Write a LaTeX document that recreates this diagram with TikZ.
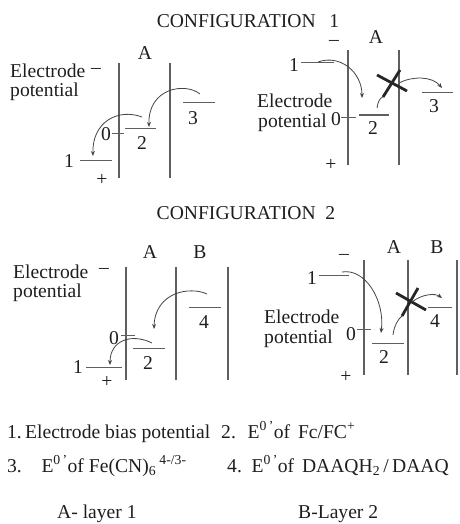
\documentclass[tikz,border=0pt]{standalone}
\usepackage{fontspec}
\setmainfont{Liberation Serif}
\usetikzlibrary{arrows.meta}
\definecolor{linegray}{RGB}{95,95,95}
\definecolor{inkgray}{RGB}{30,30,30}

\begin{document}
\begin{tikzpicture}[x=1pt, y=-1pt,
    font=\fontsize{19.6}{23}\selectfont, text=inkgray,
    lbl/.style={inner sep=0pt},
    txt/.style={inner sep=0pt, anchor=base west},
    wall/.style={draw=linegray, line width=1.1pt},
    lvl/.style={draw=linegray, line width=1pt},
    hop/.style={draw=linegray!70!black, line width=0.8pt, -{Stealth[length=5pt,width=4pt]}},
    hopin/.style={draw=linegray!70!black, line width=0.8pt},
    blocked/.style={draw=black!85, line width=2.8pt}]
  \useasboundingbox (0,0) rectangle (459,524);

  % titles
  \node[lbl] (cfg1) at (248,21) {CONFIGURATION\hspace{0.7em}1};
  \node[lbl] (cfg2) at (246,213) {CONFIGURATION\hspace{0.5em}2};

  % ---- configuration 1, left
  \node[lbl] (A1) at (145,53) {A};
  \node[txt] (el1) at (10,78) {Electrode};
  \node[lbl] (neg1) at (96,71) {–};
  \node[txt] (pot1) at (10,97) {potential};
  \draw[wall] (119,63) -- (119,178);
  \draw[wall] (170,63) -- (170,178);
  \draw[lvl] (80,160) -- (112,160);  \node[lbl] (n1a) at (69,161) {1};
  \draw[lvl] (112,133) -- (124,133); \node[lbl] (n0a) at (106,134) {0};
  \draw[lvl] (125,128) -- (156,128); \node[lbl] (n2a) at (142,143) {2};
  \draw[lvl] (183,103) -- (215,103); \node[lbl] (n3a) at (193,118) {3};
  \node[lbl] (pos1) at (102,180) {+};
  % electron hops
  \coordinate (ha1) at (142,117); \coordinate (ha2) at (93,156);
  \coordinate (hb1) at (200,94);  \coordinate (hb2) at (149,127);
  \draw[hop] (ha1) .. controls (118,108) and (92,122) .. (ha2);
  \draw[hop] (hb1) .. controls (185,82) and (148,88) .. (hb2);

  % ---- configuration 1, right
  \node[lbl] (neg2) at (334,43) {–};
  \node[lbl] (A2) at (376,37) {A};
  \draw[wall] (348,50) -- (348,165);
  \draw[wall] (399,50) -- (399,165);
  \draw[lvl] (301,63) -- (334,63);   \node[lbl] (n1b) at (294,65) {1};
  \node[txt] (el2) at (257,108) {Electrode};
  \node[txt] (pot2) at (258,128) {potential};
  \draw[lvl] (341,117) -- (356,117); \node[lbl] (n0b) at (336,119) {0};
  \draw[lvl] (359,115) -- (389,115); \node[lbl] (n2b) at (373,128) {2};
  \draw[lvl] (422,93) -- (453,93);   \node[lbl] (n3b) at (434,106) {3};
  \node[lbl] (pos2) at (331,165) {+};
  \coordinate (hc1) at (318,62);  \coordinate (hc2) at (362,98);
  \coordinate (hd1) at (377,108); \coordinate (hd2) at (383,97);
  \coordinate (he1) at (399,83);  \coordinate (he2) at (442,88);
  \draw[hop] (hc1) .. controls (340,54) and (362,72) .. (hc2);
  \draw[hopin] (hd1) .. controls (378,101) and (380,98) .. (hd2);
  % barrier
  \draw[blocked] (hd2) -- (400,70);
  \draw[blocked] (377,75) -- (407,91);
  \draw[hop] (he1) .. controls (412,76) and (432,76) .. (he2);

  % ---- configuration 2, left
  \node[lbl] (A3) at (150,252) {A};
  \node[lbl] (B3) at (200,252) {B};
  \node[txt] (el3) at (13,278) {Electrode};
  \node[lbl] (neg3) at (104,271) {–};
  \node[txt] (pot3) at (13,297) {potential};
  \foreach \x in {126,176,228}
    \draw[wall] (\x,267) -- (\x,380);
  \draw[lvl] (189,307) -- (221,307); \node[lbl] (n4c) at (204,322) {4};
  \draw[lvl] (133,348) -- (165,348); \node[lbl] (n2c) at (148,363) {2};
  \draw[lvl] (121,335) -- (135,335); \node[lbl] (n0c) at (114,338) {0};
  \draw[lvl] (86,367) -- (122,367);  \node[lbl] (n1c) at (78,367) {1};
  \node[lbl] (pos3) at (107,382) {+};
  \coordinate (hf1) at (207,294); \coordinate (hf2) at (154,329);
  \coordinate (hg1) at (152,343); \coordinate (hg2) at (110,365);
  \draw[hop] (hf1) .. controls (190,286) and (155,292) .. (hf2);
  \draw[hop] (hg1) .. controls (132,333) and (110,340) .. (hg2);

  % ---- configuration 2, right
  \node[lbl] (neg4) at (344,257) {–};
  \node[lbl] (A4) at (394,247) {A};
  \node[lbl] (B4) at (437,247) {B};
  \foreach \x in {364,408,457}
    \draw[wall] (\x,260) -- (\x,375);
  \draw[lvl] (319,275) -- (349,275); \node[lbl] (n1d) at (312,278) {1};
  \node[txt] (el4) at (264,323) {Electrode};
  \node[txt] (pot4) at (264,343) {potential};
  \draw[lvl] (357,329) -- (371,329); \node[lbl] (n0d) at (351,334) {0};
  \draw[lvl] (372,343) -- (404,343); \node[lbl] (n2d) at (384,357) {2};
  \draw[lvl] (428,307) -- (452,307); \node[lbl] (n4d) at (435,321) {4};
  \node[lbl] (pos4) at (346,377) {+};
  \coordinate (hh1) at (342,272); \coordinate (hh2) at (381,333);
  \coordinate (hi1) at (393,335); \coordinate (hi2) at (402,316);
  \coordinate (hj1) at (412,302); \coordinate (hj2) at (442,298);
  \draw[hop] (hh1) .. controls (365,268) and (385,300) .. (hh2);
  \draw[hopin] (hi1) .. controls (394,326) and (398,319) .. (hi2);
  % barrier
  \draw[blocked] (hi2) -- (418,288);
  \draw[blocked] (396,293) -- (426,310);
  \draw[hop] (hj1) .. controls (422,294) and (435,293) .. (hj2);

  % legend
  \node[txt] (k1) at (7,438) {1.\,Electrode bias potential};
  \node[txt] (k2) at (221,438) {2.\hspace{0.6em}E\textsuperscript{0\,’}of\hspace{0.4em}Fc/FC\textsuperscript{+}};
  \node[txt] (k3) at (7,472) {3.\hspace{1em}E\textsuperscript{0\,’}of Fe(CN)\textsubscript{6}\,\textsuperscript{4-/3-}};
  \node[txt] (k4) at (227,472) {4.\hspace{0.5em}E\textsuperscript{0\,’}of\hspace{0.4em}DAAQH\textsubscript{2}\,/\,DAAQ};
  \node[txt] (kA) at (57,518) {A- layer 1};
  \node[txt] (kB) at (298,518) {B-Layer 2};
\end{tikzpicture}
\end{document}
